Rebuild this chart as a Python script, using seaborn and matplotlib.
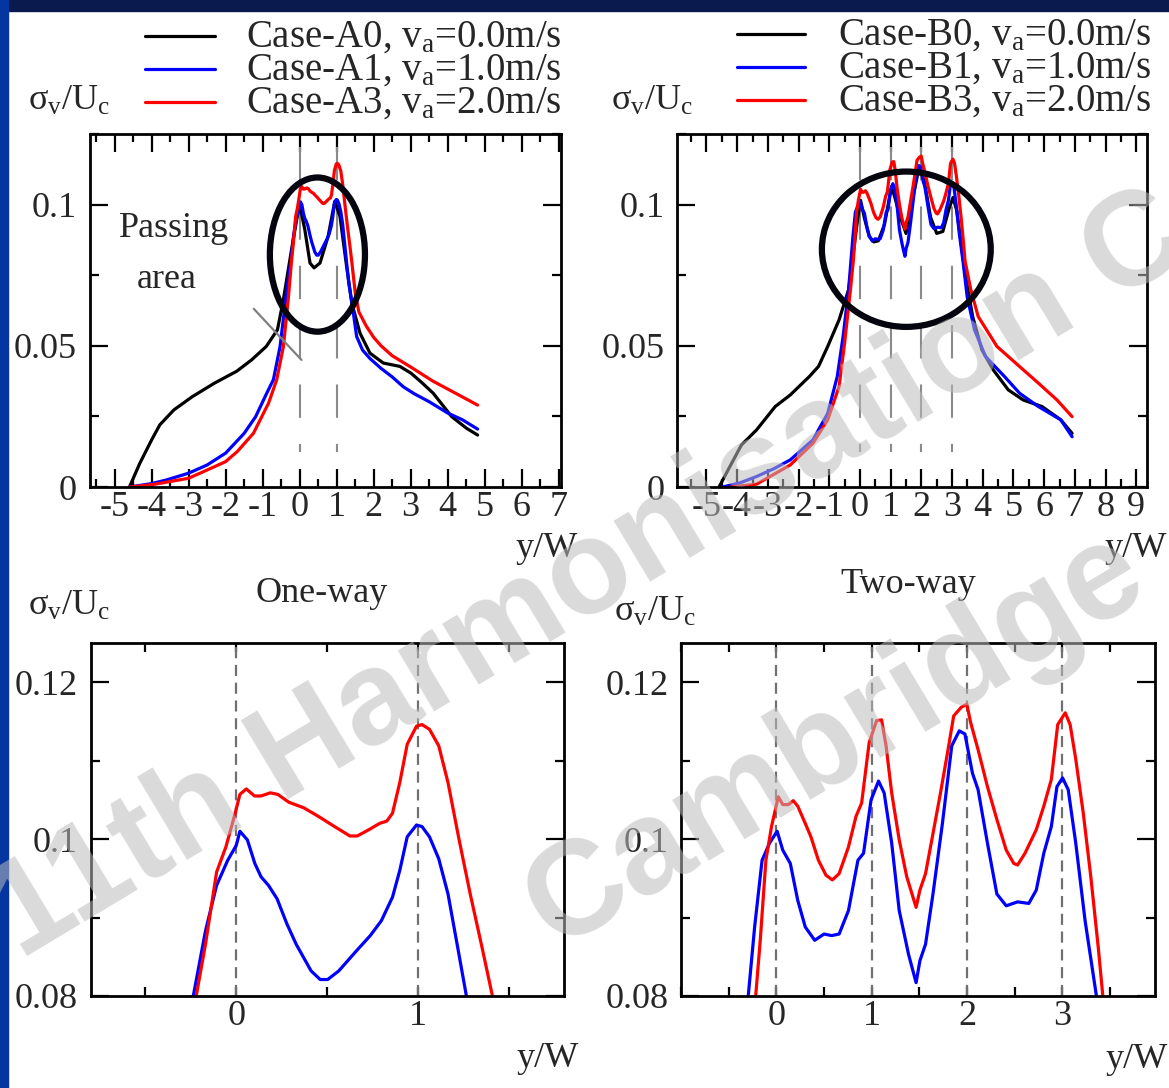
import numpy as np
import pandas as pd
import matplotlib
matplotlib.use("Agg")
import matplotlib.pyplot as plt
import seaborn as sns
from matplotlib.lines import Line2D
from matplotlib.patches import Ellipse, Rectangle
from matplotlib.ticker import MultipleLocator

# ---------------- data ----------------
A0_x = [-4.6, -4.32, -4.0, -3.78, -3.4, -2.9, -2.3, -1.7, -1.3, -0.9, -0.6, -0.44, -0.22, -0.08, 0.0,
        0.14, 0.28, 0.39, 0.55, 0.77, 0.95, 1.09, 1.27, 1.41, 1.63, 1.9, 2.26, 2.71, 3.01, 3.3,
        3.61, 4.11, 4.51, 4.81]
A0_y = [0.0, 0.0084, 0.0167, 0.022, 0.0273, 0.032, 0.0368, 0.041, 0.045, 0.0498, 0.0557, 0.0663, 0.084,
        0.0947, 0.1, 0.0911, 0.0793, 0.0776, 0.0793, 0.0888, 0.1012, 0.0958, 0.078, 0.0651, 0.0545,
        0.0474, 0.0439, 0.0427, 0.0403, 0.037, 0.0332, 0.0249, 0.0208, 0.0184]

A1_x = [-4.6, -4.0, -3.6, -3.0, -2.5, -2.0, -1.5, -1.19, -0.89, -0.71, -0.53, -0.4, -0.3,
        -0.236, -0.169, -0.108, -0.047, 0.0, 0.02, 0.061, 0.102, 0.136, 0.177, 0.224, 0.278, 0.329,
        0.411, 0.461, 0.502, 0.563, 0.654, 0.736, 0.797, 0.858, 0.898, 0.939, 0.99, 1.02, 1.061,
        1.112, 1.163, 1.213, 1.264,
        1.33, 1.41, 1.54, 1.7, 1.9, 2.2, 2.5, 2.8, 3.1, 3.5, 4.0, 4.4, 4.81]
A1_y = [0.0, 0.0012, 0.0025, 0.0049, 0.0078, 0.012, 0.019, 0.0249, 0.0332, 0.038, 0.0497, 0.0639, 0.0745,
        0.08, 0.0883, 0.0941, 0.0973, 0.0992, 0.1010, 0.0999, 0.0969, 0.0952, 0.0941, 0.0924, 0.0892,
        0.0866, 0.0832, 0.0821, 0.0821, 0.0832, 0.0856, 0.0877, 0.0896, 0.0926, 0.0960, 0.1003,
        0.1018, 0.1016, 0.1003, 0.0975, 0.0930, 0.0866, 0.08,
        0.072, 0.0655, 0.0533, 0.0485, 0.0455, 0.042, 0.039, 0.0355, 0.033, 0.0302, 0.0262, 0.0238, 0.0205]

A3_x = [-4.6, -4.0, -3.0, -2.3, -2.0, -1.69, -1.25, -0.84, -0.62, -0.44, -0.31,
        -0.22, -0.169, -0.108, -0.057, -0.006, 0.02, 0.055, 0.10, 0.136, 0.187, 0.228, 0.289, 0.37,
        0.451, 0.533, 0.624, 0.665, 0.736, 0.787, 0.827, 0.858, 0.898, 0.939, 0.99, 1.02, 1.061,
        1.112, 1.163, 1.224, 1.285, 1.346, 1.407,
        1.5, 1.6, 1.8, 2.0, 2.2, 2.5, 3.0, 3.6, 4.1, 4.81]
A3_y = [0.0, 0.0008, 0.0031, 0.0072, 0.009, 0.0125, 0.019, 0.0297, 0.038, 0.0497, 0.0663,
        0.08, 0.0866, 0.0958, 0.099, 0.1033, 0.1057, 0.1064, 0.1055, 0.1055, 0.1059, 0.1057, 0.1047,
        0.104, 0.1029, 0.1017, 0.1004, 0.1004, 0.1013, 0.102, 0.1023, 0.1033, 0.1072, 0.1121, 0.1144,
        0.1146, 0.114, 0.1119, 0.1072, 0.0999, 0.0930, 0.0866, 0.08,
        0.069, 0.062, 0.057, 0.053, 0.05, 0.0465, 0.0425, 0.0375, 0.034, 0.029]

B0_x = [-4.59, -4.2, -3.86, -3.37, -2.76, -2.27, -1.65, -1.35, -1.05, -0.68, -0.37, -0.19, -0.05, 0.02,
        0.15, 0.3, 0.45, 0.6, 0.8, 1.03, 1.15, 1.3, 1.5, 1.7, 1.93, 2.1, 2.3, 2.5, 2.7, 2.9, 3.03,
        3.15, 3.3, 3.42, 3.67, 3.97, 4.34, 4.83, 5.32, 5.93, 6.54, 6.91]
B0_y = [0.0, 0.008, 0.0149, 0.0202, 0.0285, 0.0326, 0.0391, 0.0427, 0.0498, 0.0592, 0.0699, 0.0852,
        0.097, 0.1015, 0.095, 0.0888, 0.0868, 0.0872, 0.093, 0.1065, 0.102, 0.096, 0.0898, 0.101,
        0.1135, 0.108, 0.0955, 0.0898, 0.0905, 0.0985, 0.1025, 0.098, 0.086, 0.0758, 0.0604, 0.0486,
        0.0415, 0.0344, 0.0308, 0.0285, 0.0238, 0.019]

B1_x = [-4.47, -3.9, -3.37, -2.8, -2.27, -1.53, -1.05, -0.74, -0.55, -0.37,
        -0.295, -0.228, -0.150, -0.071, 0.008, 0.067, 0.146, 0.224, 0.303, 0.402, 0.5, 0.579, 0.658,
        0.756, 0.855, 0.914, 0.993, 1.071, 1.13, 1.209, 1.288, 1.386, 1.465, 1.505, 1.564, 1.642,
        1.741, 1.839, 1.918, 1.977, 2.056, 2.115, 2.213, 2.312, 2.41, 2.529, 2.647, 2.725, 2.804,
        2.883, 2.942, 3.001, 3.06, 3.139, 3.237, 3.356,
        3.49, 3.73, 4.09, 4.71, 5.2, 5.81, 6.54, 6.91]
B1_y = [0.0, 0.0015, 0.0037, 0.0065, 0.0096, 0.0167, 0.0261, 0.0391, 0.0533, 0.0699,
        0.08, 0.0888, 0.0973, 0.0995, 0.101, 0.0986, 0.0969, 0.0922, 0.0888, 0.0871, 0.0879, 0.0877,
        0.0879, 0.0909, 0.0973, 0.0982, 0.105, 0.1074, 0.1059, 0.0995, 0.0909, 0.0853, 0.0817,
        0.0845, 0.0866, 0.0930, 0.1020, 0.1119, 0.1138, 0.1134, 0.1084, 0.1063, 0.0995, 0.0930,
        0.0915, 0.092, 0.0918, 0.0935, 0.0982, 0.1016, 0.1067, 0.1078, 0.1063, 0.0995, 0.0896, 0.08,
        0.0675, 0.0557, 0.0462, 0.0391, 0.0332, 0.0285, 0.0238, 0.0178]

B3_x = [-4.22, -3.37, -2.27, -1.53, -1.05, -0.68, -0.5, -0.31,
        -0.217, -0.169, -0.110, -0.051, 0.02, 0.067, 0.126, 0.177, 0.224, 0.303, 0.362, 0.441, 0.52,
        0.587, 0.658, 0.756, 0.835, 0.894, 0.973, 1.051, 1.103, 1.15, 1.209, 1.288, 1.367, 1.465,
        1.505, 1.564, 1.642, 1.721, 1.8, 1.859, 1.938, 1.997, 2.036, 2.115, 2.213, 2.312, 2.41,
        2.489, 2.529, 2.607, 2.725, 2.804, 2.883, 2.95, 3.029, 3.08, 3.139, 3.218, 3.297, 3.375, 3.423,
        3.61, 3.85, 4.46, 5.07, 5.81, 6.42, 6.91]
B3_y = [0.0, 0.001, 0.0078, 0.0155, 0.0238, 0.0356, 0.051, 0.0699,
        0.08, 0.0871, 0.0973, 0.1016, 0.1054, 0.1044, 0.1044, 0.1049, 0.1042, 0.102, 0.1003, 0.0973,
        0.0954, 0.0948, 0.0956, 0.099, 0.1029, 0.1046, 0.1123, 0.1151, 0.1152, 0.1119, 0.1059, 0.0999,
        0.0952, 0.0913, 0.0935, 0.0956, 0.1007, 0.1059, 0.1114, 0.1157, 0.1168, 0.1172, 0.1149,
        0.1114, 0.1067, 0.1025, 0.0986, 0.0969, 0.0967, 0.0982, 0.1012, 0.1042, 0.1076, 0.1146,
        0.1161, 0.1146, 0.1102, 0.1033, 0.0952, 0.0862, 0.08,
        0.0699, 0.0604, 0.0498, 0.0439, 0.0368, 0.0308, 0.0249]

LABELS_A = ["Case-A0, v$_\\mathrm{a}$=0.0m/s", "Case-A1, v$_\\mathrm{a}$=1.0m/s", "Case-A3, v$_\\mathrm{a}$=2.0m/s"]
LABELS_B = ["Case-B0, v$_\\mathrm{a}$=0.0m/s", "Case-B1, v$_\\mathrm{a}$=1.0m/s", "Case-B3, v$_\\mathrm{a}$=2.0m/s"]
COLORS = ["#000000", "#0000ff", "#ff0000"]
YLABEL = "σ$_\\mathrm{v}$/U$_\\mathrm{c}$"
XLABEL = "y/W"
TITLE_BL = "One-way"
TITLE_BR = "Two-way"
PASSING = ["Passing", "area"]
WATERMARK = ["11th Harmonisation Conference", "Cambridge"]
XT_TL = list(range(-5, 8))
XT_TR = list(range(-5, 10))
XT_BL = [0, 1]
XT_BR = [0, 1, 2, 3]
YT_TOP = [0, 0.05, 0.1]
YTL_TOP = ["0", "0.05", "0.1"]
YT_BOT = [0.08, 0.1, 0.12]
YTL_BOT = ["0.08", "0.1", "0.12"]
CYL_A = [0, 1]
CYL_B = [0, 1, 2, 3]

# ---------------- style ----------------
sns.set_theme(style="white")
plt.rcParams["font.family"] = ["Liberation Serif", "DejaVu Serif"]
plt.rcParams["mathtext.fontset"] = "custom"
plt.rcParams["mathtext.rm"] = "Liberation Serif"
plt.rcParams["mathtext.it"] = "Liberation Serif:italic"
plt.rcParams["mathtext.bf"] = "Liberation Serif:bold"
plt.rcParams["axes.unicode_minus"] = False

W, H = 1169, 1088
fig = plt.figure(figsize=(W / 100, H / 100), dpi=100)
fig.patch.set_facecolor("white")

def fx(px):
    return px / W

def fy(py):
    return 1 - py / H

FS = 26
LW = 2.3

def make_df(xs, ys, names):
    frames = []
    for x, y, n in zip(xs, ys, names):
        frames.append(pd.DataFrame({"x": x, "y": y, "case": n}))
    return pd.concat(frames, ignore_index=True)

def style_axes(ax, xlim, ylim, xmaj, xmin_step, yticks, ylabels, ymin_step, xmaj_len, xmin_len):
    ax.set_xlim(*xlim)
    ax.set_ylim(*ylim)
    ax.set_xticks(xmaj, labels=[str(v) for v in xmaj])
    ax.xaxis.set_minor_locator(MultipleLocator(xmin_step))
    ax.set_yticks(yticks, labels=ylabels)
    ax.yaxis.set_minor_locator(MultipleLocator(ymin_step))
    ax.tick_params(axis="x", which="major", direction="in", top=True, bottom=True,
                   length=xmaj_len, width=1.6, labelsize=FS, pad=3, color="black")
    ax.tick_params(axis="x", which="minor", direction="in", top=True, bottom=True,
                   length=xmin_len, width=1.6, color="black")
    ax.tick_params(axis="y", which="major", direction="in", left=True, right=True,
                   length=13, width=1.6, labelsize=FS, pad=9, color="black")
    ax.tick_params(axis="y", which="minor", direction="in", left=True, right=True,
                   length=6.5, width=1.6, color="black")
    for s in ax.spines.values():
        s.set_linewidth(2.0)
        s.set_color("black")
    ax.set_xlabel("")
    ax.set_ylabel("")
    ax.set_facecolor("white")

axTL = fig.add_axes([fx(89.5), fy(487), fx(471), 353 / H])
axTR = fig.add_axes([fx(677), fy(487), fx(470), 353 / H])
axBL = fig.add_axes([fx(90.6), fy(996), fx(473.4), 353 / H])
axBR = fig.add_axes([fx(681), fy(996), fx(474), 353 / H])

dfA = make_df([A0_x, A1_x, A3_x], [A0_y, A1_y, A3_y], LABELS_A)
dfB = make_df([B0_x, B1_x, B3_x], [B0_y, B1_y, B3_y], LABELS_B)
palA = dict(zip(LABELS_A, COLORS))
palB = dict(zip(LABELS_B, COLORS))

DASH_TOP = (0, (16, 12.5))
for ax, cyl in [(axTL, CYL_A), (axTR, CYL_B)]:
    for c in cyl:
        ax.plot([c, c], [0.1205, 0.0125], color="#8a8a8a", lw=1.5, ls=DASH_TOP, zorder=1)

sns.lineplot(data=dfA, x="x", y="y", hue="case", palette=palA, sort=False, estimator=None,
             lw=LW, legend=False, ax=axTL, zorder=2)
sns.lineplot(data=dfB, x="x", y="y", hue="case", palette=palB, sort=False, estimator=None,
             lw=LW, legend=False, ax=axTR, zorder=2)

style_axes(axTL, (-5.68, 7.05), (0, 0.125), XT_TL, 0.5, YT_TOP, YTL_TOP, 0.025, 13, 6)
style_axes(axTR, (-5.96, 9.35), (0, 0.125), XT_TR, 0.5, YT_TOP, YTL_TOP, 0.025, 13, 6)

# annotation ellipses / pointer
axTL.add_patch(Ellipse((0.48, 0.0823), 2.57, 0.0546, fill=False, lw=4.5, ec="#05050f", zorder=5))
axTR.add_patch(Ellipse((1.51, 0.0842), 5.5, 0.055, fill=False, lw=4.5, ec="#05050f", zorder=5))
axTL.plot([-1.24, 0.05], [0.0631, 0.045], color="#808080", lw=1.6, zorder=4)
axTL.text(-3.4, 0.0885, PASSING[0], fontsize=FS, ha="center", va="baseline")
axTL.text(-3.6, 0.0705, PASSING[1], fontsize=FS, ha="center", va="baseline")

# ---------------- bottom panels ----------------
dfA2 = make_df([A1_x, A3_x], [A1_y, A3_y], LABELS_A[1:])
dfB2 = make_df([B1_x, B3_x], [B1_y, B3_y], LABELS_B[1:])
DASH_BOT = (0, (5, 3))
for ax, cyl in [(axBL, CYL_A), (axBR, CYL_B)]:
    for c in cyl:
        ax.axvline(c, color="#707070", lw=1.6, ls=DASH_BOT, zorder=1)
sns.lineplot(data=dfA2, x="x", y="y", hue="case", palette=palA, sort=False, estimator=None,
             lw=LW, legend=False, ax=axBL, zorder=2)
sns.lineplot(data=dfB2, x="x", y="y", hue="case", palette=palB, sort=False, estimator=None,
             lw=LW, legend=False, ax=axBR, zorder=2)
style_axes(axBL, (-0.8, 1.8), (0.08, 0.125), XT_BL, 0.5, YT_BOT, YTL_BOT, 0.01, 6.5, 6.5)
style_axes(axBR, (-1.0, 3.97), (0.08, 0.125), XT_BR, 0.5, YT_BOT, YTL_BOT, 0.01, 6.5, 6.5)

# ---------------- legends (manual, in figure pixels) ----------------
LFS = 28
for labels, lx0, lx1, tx, rows in [(LABELS_A, 145, 215, 246, [36, 69, 102]),
                                   (LABELS_B, 737, 805, 838, [34, 67, 100])]:
    for lab, col, ry in zip(labels, COLORS, rows):
        fig.add_artist(Line2D([fx(lx0), fx(lx1)], [fy(ry), fy(ry)], color=col, lw=2.3,
                              transform=fig.transFigure))
        fig.text(fx(tx), fy(ry + 11), lab, fontsize=LFS, ha="left", va="baseline")

# axis labels / titles
fig.text(fx(28), fy(110), YLABEL, fontsize=FS, ha="left", va="baseline")
fig.text(fx(611), fy(110), YLABEL, fontsize=FS, ha="left", va="baseline")
fig.text(fx(28), fy(615), YLABEL, fontsize=FS, ha="left", va="baseline")
fig.text(fx(614), fy(621), YLABEL, fontsize=FS, ha="left", va="baseline")
fig.text(fx(578), fy(557), XLABEL, fontsize=FS, ha="right", va="baseline")
fig.text(fx(1167), fy(557), XLABEL, fontsize=FS, ha="right", va="baseline")
fig.text(fx(579), fy(1067), XLABEL, fontsize=FS, ha="right", va="baseline")
fig.text(fx(1168), fy(1068), XLABEL, fontsize=FS, ha="right", va="baseline")
fig.text(fx(322), fy(602), TITLE_BL, fontsize=FS, ha="center", va="baseline")
fig.text(fx(908), fy(593), TITLE_BR, fontsize=FS, ha="center", va="baseline")

# slide border
fig.add_artist(Rectangle((0, fy(11)), 1, 11 / H, transform=fig.transFigure,
                         color="#0b1a4e", zorder=10))
fig.add_artist(Rectangle((0, 0), fx(8), 1, transform=fig.transFigure,
                         color="#0435a0", zorder=10))

# watermark
WM = dict(fontsize=96, fontweight="bold", family=["Liberation Sans", "DejaVu Sans"],
          color="#bcbcbc", alpha=0.55, rotation=31, rotation_mode="anchor",
          ha="left", va="baseline", zorder=20)
fig.text(fx(20), fy(960), WATERMARK[0], **WM)
fig.text(fx(555), fy(950), WATERMARK[1], **WM)

fig.savefig("out.png", dpi=100, facecolor="white")
